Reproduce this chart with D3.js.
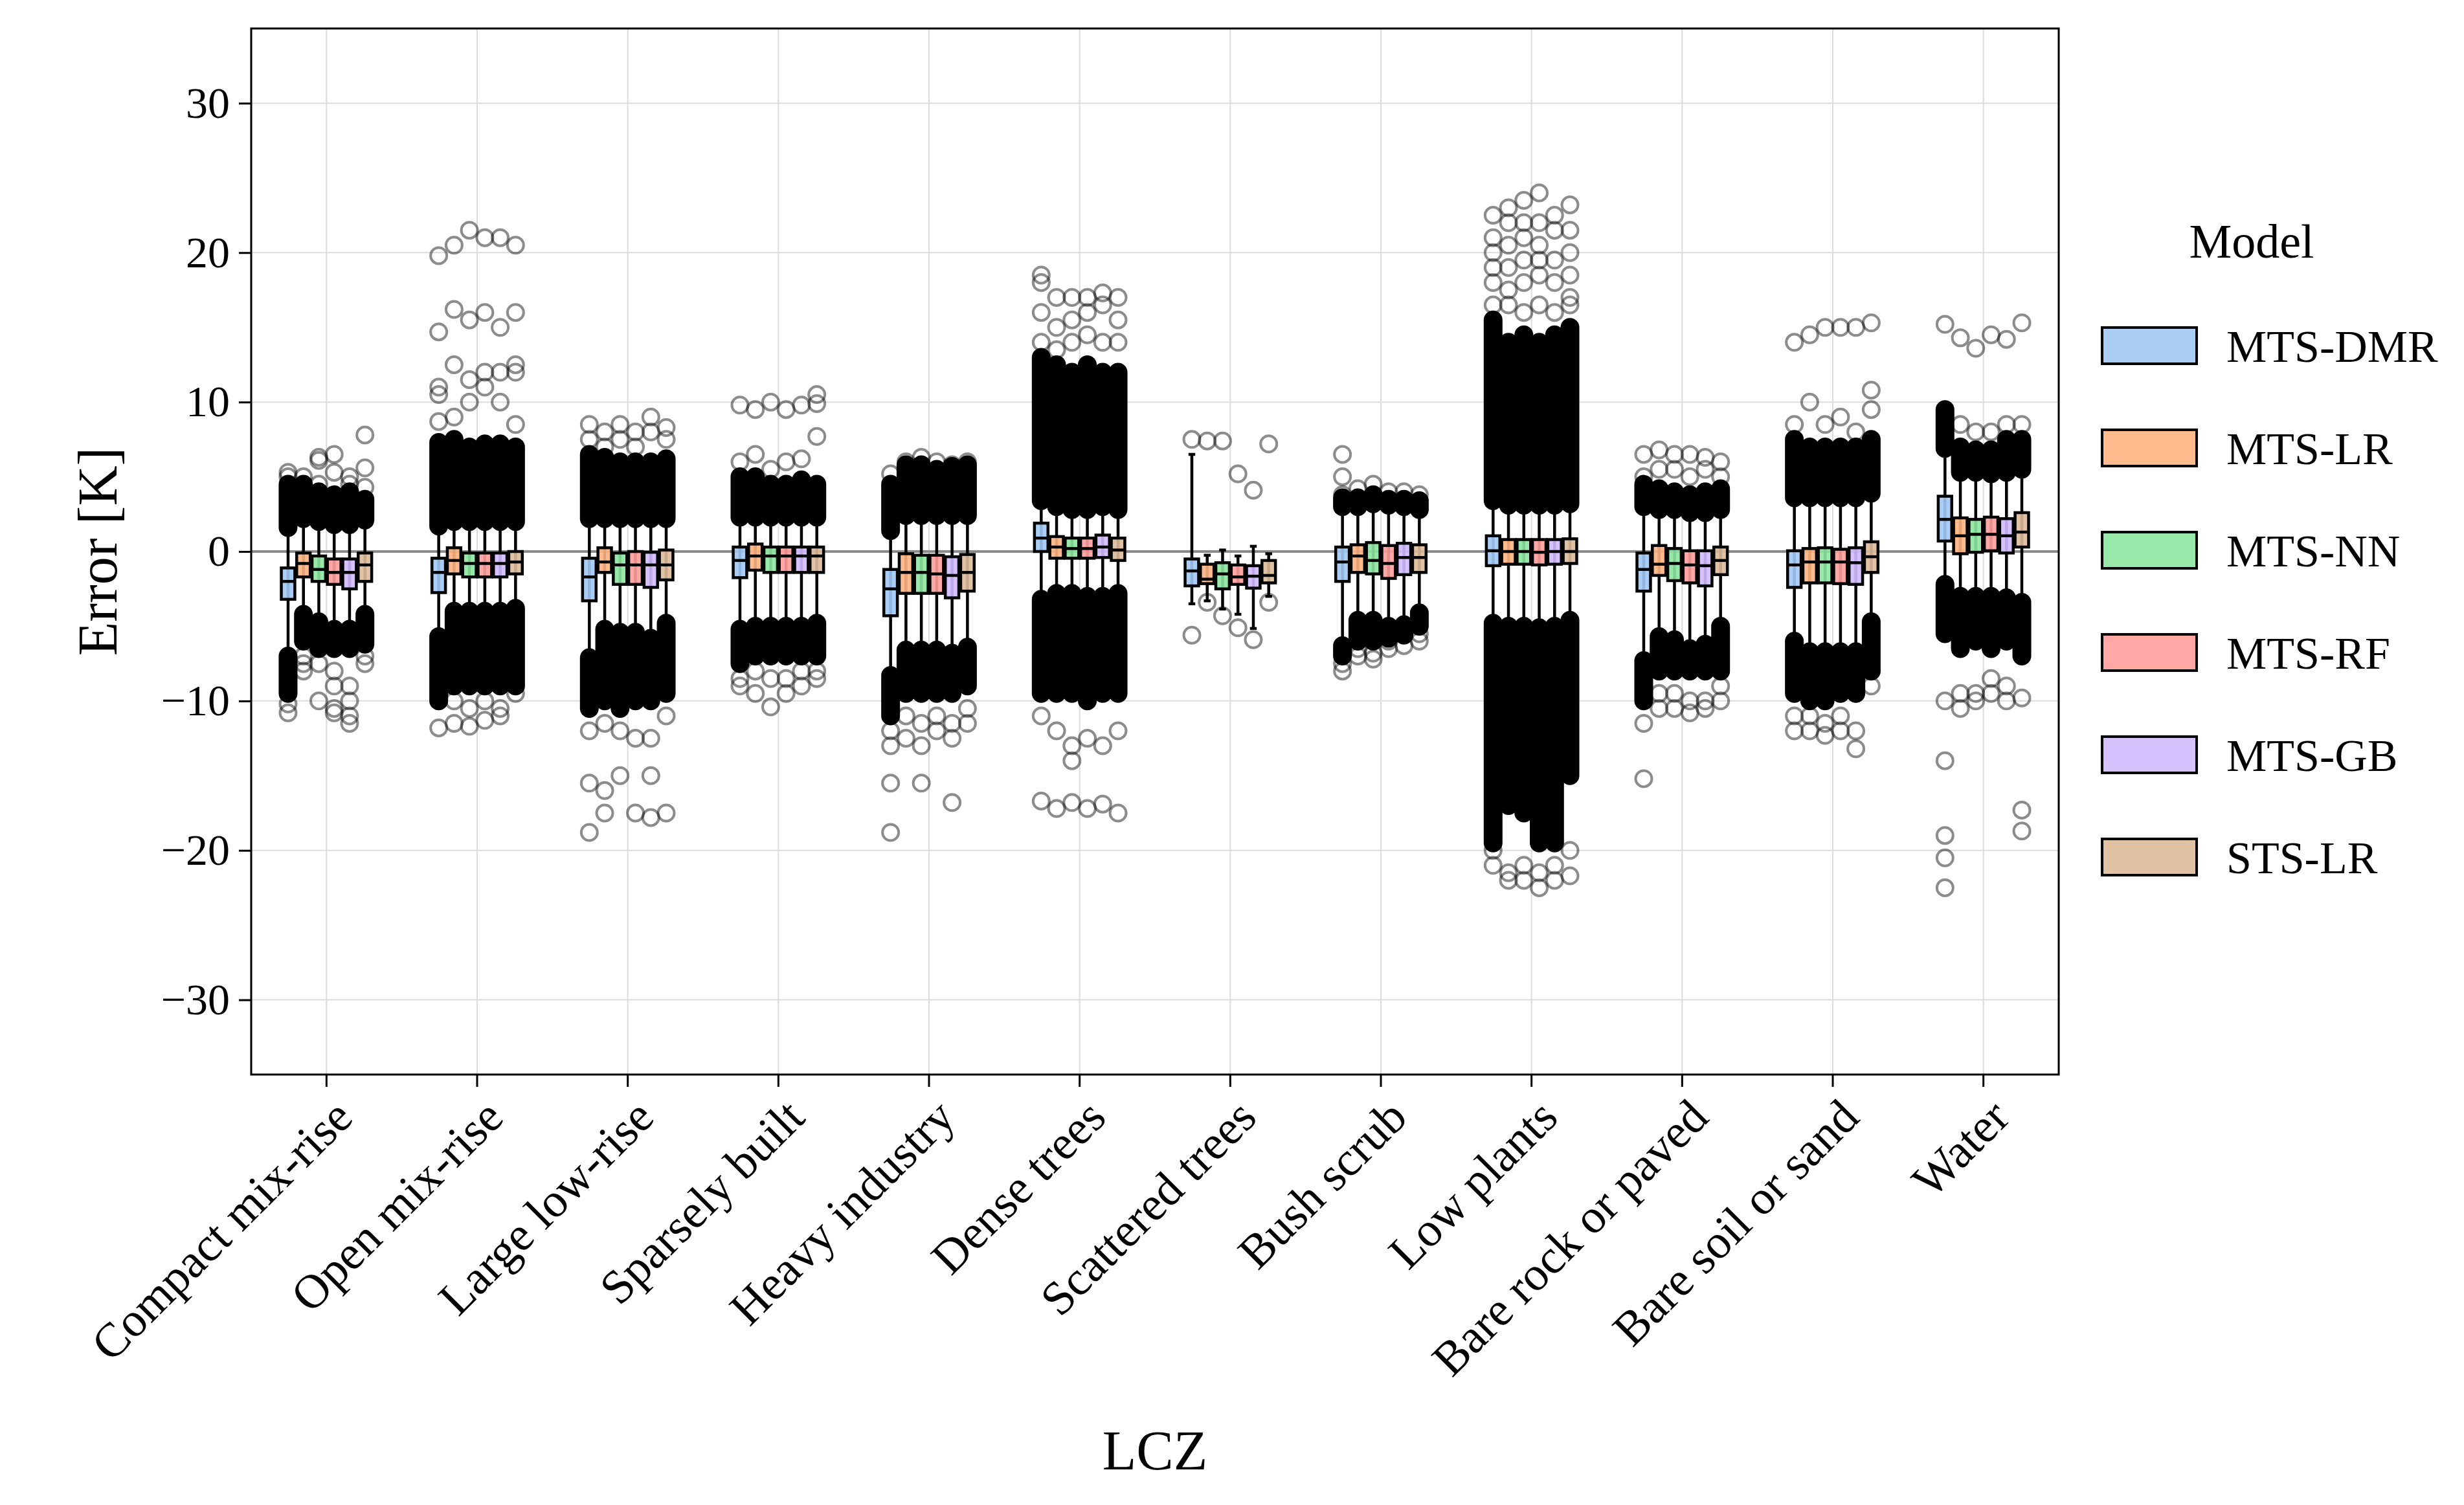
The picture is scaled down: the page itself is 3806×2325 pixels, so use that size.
<!DOCTYPE html>
<html>
<head>
<meta charset="utf-8">
<script src="https://cdn.jsdelivr.net/npm/d3@7"></script>
<style>
  body { margin: 0; background: #fff; }
  text { font-family: "Liberation Serif", "DejaVu Serif", serif; }
</style>
</head>
<body>
<div id="chart"></div>
<script>
// Chart data
const categories = ["Compact mix-rise", "Open mix-rise", "Large low-rise", "Sparsely built",
  "Heavy industry", "Dense trees", "Scattered trees", "Bush scrub", "Low plants",
  "Bare rock or paved", "Bare soil or sand", "Water"];
const models = ["MTS-DMR", "MTS-LR", "MTS-NN", "MTS-RF", "MTS-GB", "STS-LR"];
const colors = ["#a1c9f4", "#ffb482", "#8de5a1", "#ff9f9b", "#d0bbff", "#debb9b"];
const yTicks = [-30, -20, -10, 0, 10, 20, 30];

// [whisker low, q1, median, q3, whisker high] per category, per model
const boxStats = [
  [[-6.8,-3.2,-2.0,-1.1,1.4],[-4.0,-1.7,-0.8,-0.1,2.0],[-4.5,-2.0,-1.2,-0.3,1.8],[-5.0,-2.2,-1.4,-0.5,1.6],[-5.0,-2.5,-1.4,-0.5,1.6],[-4.0,-2.0,-0.9,-0.1,1.9]],
  [[-5.5,-2.75,-1.4,-0.45,1.4],[-3.8,-1.5,-0.6,0.25,1.7],[-3.8,-1.7,-0.8,-0.1,1.7],[-3.8,-1.7,-0.8,-0.1,1.7],[-3.8,-1.7,-0.8,-0.1,1.7],[-3.6,-1.5,-0.7,0.0,1.7]],
  [[-6.9,-3.3,-1.7,-0.45,2.0],[-5.0,-1.4,-0.7,0.25,2.0],[-5.2,-2.2,-0.9,-0.1,2.0],[-5.2,-2.2,-0.9,0.0,2.0],[-5.6,-2.4,-0.9,-0.05,2.0],[-4.6,-1.9,-0.9,0.1,2.0]],
  [[-5.0,-1.75,-0.6,0.3,2.1],[-4.8,-1.25,-0.3,0.5,2.1],[-4.8,-1.4,-0.3,0.3,2.1],[-4.8,-1.4,-0.3,0.3,2.1],[-4.8,-1.4,-0.3,0.3,2.1],[-4.6,-1.4,-0.3,0.3,2.1]],
  [[-8.1,-4.3,-2.5,-1.2,1.15],[-6.4,-2.8,-1.4,-0.15,2.1],[-6.4,-2.8,-1.4,-0.25,2.1],[-6.4,-2.8,-1.5,-0.25,2.1],[-6.6,-3.1,-1.6,-0.35,2.1],[-6.2,-2.65,-1.4,-0.2,2.1]],
  [[-3.0,0.0,0.9,1.9,3.2],[-2.6,-0.45,0.3,1.0,2.8],[-2.6,-0.45,0.2,0.9,2.6],[-2.8,-0.45,0.2,0.9,2.6],[-2.8,-0.4,0.3,1.1,2.8],[-2.6,-0.6,0.1,0.9,2.6]],
  [[-3.5,-2.3,-1.3,-0.5,6.5],[-3.3,-2.15,-1.85,-0.85,-0.25],[-3.85,-2.5,-1.5,-0.75,0.1],[-4.2,-2.2,-1.7,-0.9,-0.3],[-5.15,-2.45,-1.65,-0.95,0.35],[-3.0,-2.1,-1.6,-0.6,-0.15]],
  [[-6.1,-2.0,-0.7,0.3,2.8],[-4.4,-1.4,-0.3,0.45,2.8],[-4.4,-1.5,-0.6,0.6,3.0],[-4.8,-1.8,-0.8,0.4,2.9],[-4.7,-1.55,-0.4,0.55,2.8],[-3.9,-1.4,-0.4,0.45,2.6]],
  [[-4.6,-0.95,0.05,1.05,3.2],[-4.8,-0.85,0.0,0.8,2.9],[-4.8,-0.85,0.0,0.8,2.9],[-4.9,-0.9,-0.05,0.8,2.9],[-4.8,-0.85,0.0,0.8,2.9],[-4.4,-0.8,0.0,0.85,3.0]],
  [[-7.1,-2.65,-1.2,-0.1,2.8],[-5.5,-1.6,-0.85,0.4,2.6],[-5.7,-1.95,-0.8,0.2,2.6],[-6.3,-2.1,-0.9,0.05,2.4],[-6.0,-2.3,-0.95,0.05,2.4],[-4.8,-1.55,-0.6,0.3,2.6]],
  [[-5.8,-2.4,-0.9,0.05,3.4],[-6.5,-2.1,-0.7,0.2,3.4],[-6.5,-2.1,-0.7,0.25,3.4],[-6.5,-2.15,-0.7,0.15,3.4],[-6.5,-2.2,-0.75,0.25,3.4],[-4.5,-1.4,-0.35,0.65,3.7]],
  [[-1.95,0.7,2.15,3.7,6.7],[-2.8,-0.15,1.05,2.25,5.1],[-2.8,-0.05,1.15,2.15,5.1],[-2.8,0.05,1.15,2.3,5.0],[-2.9,-0.1,1.05,2.2,5.1],[-3.2,0.3,1.3,2.6,5.3]]
];

// dense outlier bands [low, high] above and below the whiskers (null = none)
const denseHigh = [
  [[1.6,4.5],[2.2,4.5],[2.0,4.0],[1.8,3.8],[1.8,4.0],[2.1,3.5]],
  [[1.7,7.3],[2.0,7.5],[2.0,7.0],[2.0,7.2],[2.0,7.2],[2.0,7.0]],
  [[2.2,6.5],[2.2,6.3],[2.2,6.0],[2.2,6.0],[2.2,6.0],[2.2,6.2]],
  [[2.3,5.0],[2.3,5.0],[2.3,4.5],[2.3,4.5],[2.3,4.8],[2.3,4.5]],
  [[1.4,4.5],[2.4,5.8],[2.4,5.8],[2.4,5.5],[2.4,5.7],[2.4,5.8]],
  [[3.4,13.0],[3.0,12.5],[2.8,12.0],[2.8,12.5],[3.0,12.0],[2.8,12.0]],
  [null,null,null,null,null,null],
  [[3.0,3.6],[3.0,3.6],[3.2,3.8],[3.1,3.5],[3.0,3.5],[2.8,3.4]],
  [[3.4,15.5],[3.1,14.0],[3.1,14.5],[3.1,14.0],[3.1,14.5],[3.2,15.0]],
  [[3.0,4.5],[2.8,4.2],[2.8,4.0],[2.6,3.8],[2.6,4.0],[2.8,4.2]],
  [[3.6,7.5],[3.6,7.0],[3.6,7.0],[3.6,7.0],[3.6,7.0],[3.9,7.5]],
  [[6.9,9.5],[5.3,7.0],[5.3,6.8],[5.2,6.8],[5.3,7.5],[5.5,7.5]]
];
const denseLow = [
  [[-9.5,-7.0],[-6.0,-4.2],[-6.5,-4.7],[-6.5,-5.2],[-6.5,-5.2],[-6.2,-4.2]],
  [[-10.0,-5.7],[-9.0,-4.0],[-9.0,-4.0],[-9.0,-4.0],[-9.0,-4.0],[-9.0,-3.8]],
  [[-10.5,-7.1],[-10.0,-5.2],[-10.5,-5.4],[-10.0,-5.4],[-10.0,-5.8],[-9.5,-4.8]],
  [[-7.5,-5.2],[-7.0,-5.0],[-7.0,-5.0],[-7.0,-5.0],[-7.0,-5.0],[-7.0,-4.8]],
  [[-11.0,-8.3],[-9.5,-6.6],[-9.5,-6.6],[-9.5,-6.6],[-9.5,-6.8],[-9.0,-6.4]],
  [[-9.5,-3.2],[-9.5,-2.8],[-9.5,-2.8],[-10.0,-3.0],[-9.5,-3.0],[-9.5,-2.8]],
  [null,null,null,null,null,null],
  [[-7.0,-6.3],[-6.0,-4.6],[-6.0,-4.6],[-5.8,-5.0],[-5.6,-4.9],[-5.0,-4.1]],
  [[-19.5,-4.8],[-17.0,-5.0],[-17.5,-5.0],[-19.5,-5.1],[-19.5,-5.0],[-15.0,-4.6]],
  [[-10.0,-7.3],[-8.0,-5.7],[-8.0,-5.9],[-8.0,-6.5],[-8.0,-6.2],[-8.0,-5.0]],
  [[-9.5,-6.0],[-10.0,-6.7],[-10.0,-6.7],[-9.5,-6.7],[-9.5,-6.7],[-8.0,-4.7]],
  [[-5.5,-2.2],[-6.5,-3.0],[-6.0,-3.0],[-6.5,-3.0],[-6.0,-3.1],[-7.0,-3.4]]
];

// individual (sparse) outliers
const sparsePoints = [
  [[5.3,5.0,-10.2,-10.8],[5.0,-7.0,-7.5,-8.0],[6.3,6.1,4.5,-7.5,-10.0],[5.3,6.5,-8.0,-9.0,-10.5,-10.8],[5.0,4.5,-9.0,-10.0,-11.0,-11.5],[7.8,5.6,4.3,-7.0,-7.5]],
  [[8.7,10.5,11.0,14.7,19.8,-11.8],[9.0,12.5,16.2,20.5,-10.0,-11.5],[10.0,11.5,15.5,21.5,-10.5,-11.7],[11.0,12.0,16.0,21.0,-10.0,-11.3],[10.0,12.0,15.0,21.0,-10.5,-11.0],[8.5,12.0,12.5,16.0,20.5,-9.5]],
  [[7.5,8.5,-12.0,-15.5,-18.8],[7.0,8.0,-11.5,-16.0,-17.5],[7.5,8.5,-12.0,-15.0],[7.0,8.0,-12.5,-17.5],[8.0,9.0,-12.5,-15.0,-17.8],[7.5,8.3,-11.0,-17.5]],
  [[9.8,6.0,-8.5,-9.0],[9.5,6.5,-8.0,-9.5],[10.0,5.5,-8.5,-10.4],[9.5,6.0,-8.5,-9.5],[9.8,6.2,-8.0,-9.0],[10.5,9.9,7.7,-8.0,-8.5]],
  [[5.2,-12.0,-13.0,-15.5,-18.8],[6.0,-11.0,-12.5],[6.3,-11.5,-13.0,-15.5],[6.0,-11.0,-12.0],[5.8,-11.5,-12.5,-16.8],[6.0,-10.5,-11.5]],
  [[14.0,16.0,18.0,18.5,-11.0,-16.7],[13.5,15.0,17.0,-12.0,-17.2],[14.0,15.5,17.0,-13.0,-14.0,-16.8],[14.5,16.0,17.0,-12.5,-17.2],[14.0,16.5,17.3,-13.0,-16.9],[14.0,15.5,17.0,-12.0,-17.5]],
  [[7.5,-5.6],[7.4,-3.4],[7.4,-4.3],[5.2,-5.1],[4.1,-5.9],[7.2,-3.4]],
  [[6.5,5.0,3.8,-7.5,-8.0],[4.2,-6.5,-7.0],[4.5,-6.8,-7.2],[4.0,-6.0,-6.5],[4.0,-6.3],[3.8,-5.5,-6.0]],
  [[16.5,18.0,19.0,20.0,21.0,22.5,-20.0,-21.0],[16.5,17.5,19.0,20.5,22.0,23.0,-21.5,-22.0],[16.0,18.0,19.5,21.0,22.0,23.5,-21.0,-22.0],[16.5,18.5,19.5,20.5,22.0,24.0,-21.5,-22.5],[16.0,18.0,19.5,21.5,22.5,-21.0,-22.0],[16.5,17.0,18.5,20.0,21.5,23.2,-20.0,-21.7]],
  [[5.0,6.5,-11.5,-15.2],[5.5,6.8,-9.5,-10.5],[5.5,6.5,-9.5,-10.5],[5.0,6.5,-10.0,-10.8],[5.5,6.3,-10.0,-10.5],[5.0,6.0,-9.0,-10.0]],
  [[8.5,14.0,-11.0,-12.0],[10.0,14.5,-11.0,-12.0],[8.5,15.0,-11.5,-12.3],[9.0,15.0,-11.0,-12.0],[8.0,15.0,-12.0,-13.2],[10.8,15.3,9.5,-8.0,-9.0]],
  [[15.2,-10.0,-14.0,-19.0,-20.5,-22.5],[14.3,8.5,-9.5,-10.5],[13.6,8.0,-9.5,-10.0],[14.5,8.0,-8.5,-9.5],[14.2,8.5,-9.0,-10.0],[15.3,8.5,-9.8,-17.3,-18.7]]
];

// Layout (pixels)
const width = 3806, height = 2325;
const margin = {left: 388, right: 626, top: 44, bottom: 665};
const plotRight = width - margin.right, plotBottom = height - margin.bottom;

const svg = d3.select("#chart").append("svg")
  .attr("width", width).attr("height", height);

const x = d3.scaleBand().domain(categories).range([margin.left, plotRight]);
const xModel = d3.scaleBand().domain(models).range([0, x.bandwidth() * 0.6]).paddingInner(0.12);
const y = d3.scaleLinear().domain([-35, 35]).range([plotBottom, margin.top]);

// gridlines
svg.append("g").selectAll("line").data(yTicks).enter().append("line")
  .attr("x1", margin.left).attr("x2", plotRight)
  .attr("y1", d => y(d)).attr("y2", d => y(d))
  .attr("stroke", "#dcdcdc").attr("stroke-width", 2);
svg.append("g").selectAll("line").data(categories).enter().append("line")
  .attr("x1", d => x(d) + x.bandwidth() / 2).attr("x2", d => x(d) + x.bandwidth() / 2)
  .attr("y1", margin.top).attr("y2", plotBottom)
  .attr("stroke", "#dcdcdc").attr("stroke-width", 2);

// zero line
svg.append("line")
  .attr("x1", margin.left).attr("x2", plotRight)
  .attr("y1", y(0)).attr("y2", y(0))
  .attr("stroke", "#8a8a8a").attr("stroke-width", 4);

const r = 12.5;
const boxW = xModel.bandwidth();
const marks = svg.append("g");

categories.forEach((cat, ci) => {
  const groupLeft = x(cat) + x.bandwidth() * 0.2;
  models.forEach((m, mi) => {
    const cx = groupLeft + xModel(m) + boxW / 2;
    const g = marks.append("g");
    const [wlo, q1, med, q3, whi] = boxStats[ci][mi];

    // whiskers
    g.append("line").attr("x1", cx).attr("x2", cx).attr("y1", y(whi)).attr("y2", y(wlo))
      .attr("stroke", "#000").attr("stroke-width", 4.5);
    [wlo, whi].forEach(v => g.append("line")
      .attr("x1", cx - boxW / 4).attr("x2", cx + boxW / 4)
      .attr("y1", y(v)).attr("y2", y(v))
      .attr("stroke", "#000").attr("stroke-width", 4.5));

    // dense outlier bands
    [denseHigh[ci][mi], denseLow[ci][mi]].forEach(b => {
      if (!b) return;
      g.append("rect")
        .attr("x", cx - r - 2).attr("width", 2 * r + 4)
        .attr("y", y(b[1]) - r - 2).attr("height", y(b[0]) - y(b[1]) + 2 * r + 4)
        .attr("rx", r + 2).attr("fill", "#000");
    });

    // sparse outliers
    g.selectAll("circle").data(sparsePoints[ci][mi]).enter().append("circle")
      .attr("cx", cx).attr("cy", d => y(d)).attr("r", r)
      .attr("fill", "none").attr("stroke", "#000").attr("stroke-opacity", 0.45)
      .attr("stroke-width", 4);

    // box
    g.append("rect").attr("x", cx - boxW / 2).attr("width", boxW)
      .attr("y", y(q3)).attr("height", y(q1) - y(q3))
      .attr("fill", colors[mi]).attr("fill-opacity", 0.9)
      .attr("stroke", "#000").attr("stroke-width", 4.5);
    g.append("line").attr("x1", cx - boxW / 2).attr("x2", cx + boxW / 2)
      .attr("y1", y(med)).attr("y2", y(med))
      .attr("stroke", "#000").attr("stroke-width", 4.5);
  });
});

// frame
svg.append("rect").attr("x", margin.left).attr("y", margin.top)
  .attr("width", plotRight - margin.left).attr("height", plotBottom - margin.top)
  .attr("fill", "none").attr("stroke", "#000").attr("stroke-width", 3);

// axes
const yAxis = svg.append("g").attr("transform", `translate(${margin.left},0)`)
  .call(d3.axisLeft(y).tickValues(yTicks).tickSize(19).tickPadding(14)
    .tickFormat(d => d < 0 ? "\u2212" + Math.abs(d) : d));
yAxis.select(".domain").remove();
yAxis.selectAll("line").attr("stroke-width", 3);
yAxis.selectAll("text").attr("font-size", 68).attr("font-family", "Liberation Serif");

const xAxis = svg.append("g").attr("transform", `translate(0,${plotBottom})`)
  .call(d3.axisBottom(x).tickSize(19).tickPadding(10));
xAxis.select(".domain").remove();
xAxis.selectAll("line").attr("stroke-width", 3);
xAxis.selectAll("text")
  .attr("font-size", 74).attr("font-family", "Liberation Serif")
  .attr("text-anchor", "end").attr("dy", "0.6em")
  .attr("transform", "translate(-8,18) rotate(-45)");

// axis titles
svg.append("text").attr("x", (margin.left + plotRight) / 2).attr("y", 2270)
  .attr("text-anchor", "middle").attr("font-size", 86).text("LCZ");
svg.append("text").attr("transform", `translate(150,${y(0)}) rotate(-90)`)
  .attr("text-anchor", "middle").attr("dy", "0.35em").attr("font-size", 86).text("Error [K]");

// legend
const legend = svg.append("g");
legend.append("text").attr("x", 3478).attr("y", 398).attr("text-anchor", "middle")
  .attr("font-size", 74).text("Model");
models.forEach((m, i) => {
  const ly = 534 + i * 158;
  legend.append("rect").attr("x", 3247).attr("y", ly - 28).attr("width", 146).attr("height", 56)
    .attr("fill", colors[i]).attr("fill-opacity", 0.9).attr("stroke", "#000").attr("stroke-width", 4);
  legend.append("text").attr("x", 3439).attr("y", ly).attr("dy", "0.35em")
    .attr("font-size", 70).text(m);
});
</script>
</body>
</html>
